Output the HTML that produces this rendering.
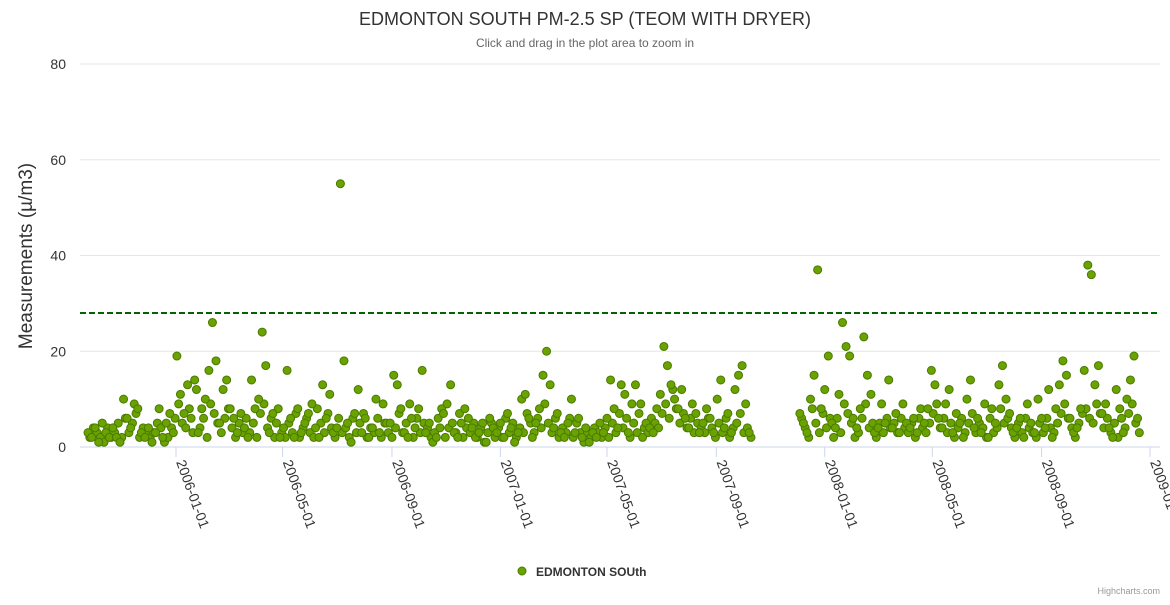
<!DOCTYPE html>
<html><head><meta charset="utf-8"><style>
body{margin:0;background:#fff;font-family:"Liberation Sans","DejaVu Sans",sans-serif}
</style></head><body>
<svg id="chart" width="1170" height="600" xmlns="http://www.w3.org/2000/svg">
<text x="585" y="25" text-anchor="middle" font-size="18" fill="#333">EDMONTON SOUTH PM-2.5 SP (TEOM WITH DRYER)</text>
<text x="585" y="47" text-anchor="middle" font-size="12" fill="#666">Click and drag in the plot area to zoom in</text>
<g id="grid"></g><g id="xaxis"></g><g id="pts"></g>
<text transform="translate(32,256) rotate(-90)" text-anchor="middle" font-size="19" fill="#333">Measurements (µ/m3)</text>
<g><circle cx="522" cy="571" r="4" fill="#6aa300" stroke="#4a7a00"/><text x="536" y="576" font-size="12" font-weight="bold" fill="#333">EDMONTON SOUth</text></g>
<text x="1160" y="594" text-anchor="end" font-size="9" fill="#999">Highcharts.com</text>
</svg>
<script>
const yTicks=[0,20,40,60,80];
const xTickLabels=["2006-01-01","2006-05-01","2006-09-01","2007-01-01","2007-05-01","2007-09-01","2008-01-01","2008-05-01","2008-09-01","2009-01-01"];
const threshold=28;
const segmentStarts=["2005-09-24","2007-12-04"];
const segmentValues=[
[3,2,4,1,5,3,2,4,2,1,10,6,4,9,8,3,2,4,1,3,8,2,5,7,3,
19,11,7,13,6,14,3,8,10,16,26,18,5,12,14,8,6,3,7,4,2,14,8,10,24,17,3,7,5,2,
4,16,6,2,8,3,5,7,9,4,2,13,6,11,3,4,55,18,5,1,7,12,3,6,2,4,10,3,9,5,
5,15,13,8,3,2,6,4,8,16,3,5,1,2,4,7,9,13,3,2,5,8,6,4,2,3,5,1,6,4,
3,5,2,7,4,1,3,10,11,6,2,5,8,15,20,13,4,7,3,2,5,10,3,6,2,4,1,3,2,5,
3,6,14,8,4,13,11,3,9,13,7,2,5,4,3,8,11,21,17,13,10,8,12,6,4,9,7,3,5,8,
6,3,10,14,4,7,3,12,15,17,9,3],
[7,5,3,10,15,37,8,12,19,5,4,11,26,21,19,6,4,8,23,15,11,3,4,9,5,14,4,7,3,9,5,4,6,3,8,5,
8,16,13,6,4,9,12,3,7,5,2,10,14,4,6,3,9,2,8,5,13,17,10,7,3,4,6,2,9,5,
3,10,6,4,12,2,8,13,18,15,6,3,4,8,16,38,36,13,17,7,9,4,2,12,8,3,10,14,19,6]
];
// second set of readings, offset 2 days from the first
const segmentValuesB=[
[2,4,3,2,1,4,2,3,5,2,6,3,5,7,2,4,3,2,3,5,4,1,2,4,6,
9,5,4,8,3,12,4,6,2,9,7,5,3,6,8,4,2,5,3,6,3,5,2,7,9,4,6,2,8,3,
2,5,3,7,2,4,6,3,2,8,5,3,7,4,2,6,3,4,2,6,3,5,7,2,4,3,6,2,5,3,
2,4,7,3,5,9,2,6,3,5,4,2,3,6,8,2,4,5,3,7,2,4,3,5,2,4,1,3,5,2,
4,2,6,3,5,2,4,3,7,5,3,6,4,9,5,3,6,2,4,3,6,2,5,3,1,3,2,4,3,2,
4,2,5,3,7,4,6,2,5,3,9,4,3,6,5,4,7,9,6,12,8,5,7,4,6,3,5,4,3,6,
4,2,5,3,6,2,4,5,7,3,4,2],
[6,4,2,8,5,3,7,4,6,2,6,3,9,7,5,2,3,6,9,4,5,2,5,3,6,4,5,3,6,4,3,5,2,6,4,3,
5,7,9,4,6,3,5,2,4,6,3,5,7,3,5,4,2,6,3,4,8,5,6,4,2,5,3,6,4,3,
2,5,3,6,4,3,5,7,9,6,4,2,5,7,8,6,5,9,7,4,6,3,5,2,6,4,7,9,5,3]
];
const NS="http://www.w3.org/2000/svg";
const d0=Date.UTC(2006,0,1),x0=176,pxPerDay=974/1096;
function xs(t){return x0+(t-d0)/864e5*pxPerDay}
function ys(v){return 447-v*383/80}
function mk(tag,a,p){const e=document.createElementNS(NS,tag);for(const k in a)e.setAttribute(k,a[k]);p.appendChild(e);return e}
const grid=document.getElementById('grid');
yTicks.forEach(v=>{
 const l=mk('line',{x1:80,x2:1160,y1:ys(v),y2:ys(v),stroke:v===0?'#ccd6eb':'#e6e6e6'},grid);
 
 
 const t=mk('text',{x:66,y:ys(v)+5,'text-anchor':'end','font-size':14,fill:'#333'},grid);t.textContent=v;
 
 
});
const tl=mk('line',{x1:80,x2:1160,y1:ys(threshold),y2:ys(threshold),stroke:'#006400','stroke-width':2,'stroke-dasharray':'6,3'},grid);


const xa=document.getElementById('xaxis');
xTickLabels.forEach(s=>{
 const p=s.split('-'),x=xs(Date.UTC(+p[0],+p[1]-1,+p[2]));
 mk('line',{x1:x,x2:x,y1:447,y2:457,stroke:'#ccd6eb'},xa);
 const t=mk('text',{x:x,y:462,'font-size':14,fill:'#333',transform:`rotate(70 ${x} 462)`},xa);t.textContent=s;
 
 
});
const pts=document.getElementById('pts');
function plot(sets,offsetDays){
 sets.forEach((vals,si)=>{
  const p=segmentStarts[si].split('-'),st=Date.UTC(+p[0],+p[1]-1,+p[2]);
  vals.forEach((v,i)=>{
   const c=mk('circle',{cx:xs(st+(i*4+offsetDays)*864e5),cy:ys(v),r:4,fill:'#6aa300',stroke:'#4a7a00','stroke-width':1},pts);
   
   
  });
 });
}
plot(segmentValuesB,2);
plot(segmentValues,0);
</script>
</body></html>
